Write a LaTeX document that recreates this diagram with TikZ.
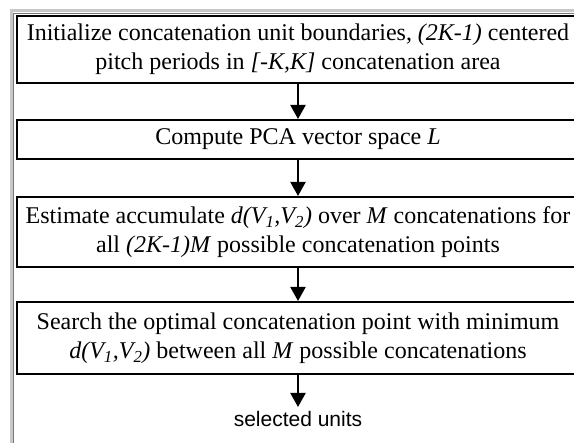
\documentclass[tikz,border=0pt]{standalone}
\usepackage{fontspec}
\setmainfont{Liberation Serif}
\newfontfamily\labelfont{Liberation Sans}
\usetikzlibrary{positioning, arrows.meta}

\definecolor{framelight}{RGB}{200,200,200}
\definecolor{framedark}{RGB}{120,120,120}

\tikzset{
  procbox/.style={draw, line width=2pt, minimum width=562pt, inner sep=4pt,
    align=center, font=\fontsize{24}{29}\selectfont},
  flow/.style={line width=2pt, -{Triangle[width=15pt,length=14pt]}}
}

\begin{document}
\begin{tikzpicture}[x=1pt, y=1pt, node distance=35pt]
  \clip (0,0) rectangle (574,-443);
  % window frame, cut off on the right
  \draw[framelight, line width=3pt] (11,-443) -- (11,-11) -- (574,-11);
  \draw[framedark, line width=1pt] (13.5,-443) -- (13.5,-13.5) -- (574,-13.5);

  \node[procbox, minimum height=67pt] (init) at (298,-49.5)
    {Initialize concatenation unit boundaries, \textit{(2K-1)} centered\\
     pitch periods in \textit{[-K,K]} concatenation area};
  \node[procbox, minimum height=39pt, below=35pt of init] (pca)
    {Compute PCA vector space \textit{L}};
  \node[procbox, minimum height=70pt, below=36pt of pca] (accum)
    {Estimate accumulate \textit{d(V\textsubscript{1},V\textsubscript{2})} over \textit{M} concatenations for\\
     all \textit{(2K-1)M} possible concatenation points};
  \node[procbox, minimum height=72pt, below=33pt of accum] (search)
    {Search the optimal concatenation point with minimum\\
     \textit{d(V\textsubscript{1},V\textsubscript{2})} between all \textit{M} possible concatenations};
  \node[below=32pt of search, inner sep=4pt, font=\labelfont\fontsize{21}{25}\selectfont] (units)
    {selected units};

  \draw[flow] (init) -- (pca);
  \draw[flow] (pca) -- (accum);
  \draw[flow] (accum) -- (search);
  \draw[flow] (search) -- (units);
\end{tikzpicture}
\end{document}
